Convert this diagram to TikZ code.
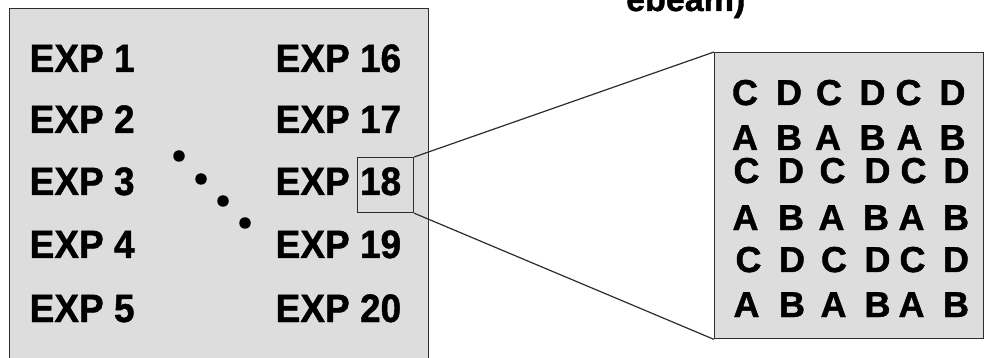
\documentclass[tikz,border=0pt]{standalone}
\usepackage{fontspec}
\setmainfont{Liberation Sans}[BoldFeatures={FakeBold=1.2}]
\definecolor{panelgray}{RGB}{221,221,221}
\definecolor{edgegray}{RGB}{45,45,45}
\begin{document}
\begin{tikzpicture}[x=1pt,y=-1pt,
  panel/.style={draw=edgegray, line width=1.4pt, fill=panelgray, inner sep=0pt, anchor=north west},
  explabel/.style={anchor=base west, inner sep=0pt, font=\fontsize{37}{40}\selectfont\bfseries, yscale=1.07, transform shape},
  gridletter/.style={anchor=base, inner sep=0pt, font=\fontsize{36}{40}\selectfont\bfseries},
  dotmark/.style={circle, fill=black, inner sep=0pt, minimum size=11.5pt},
  zoomframe/.style={draw=edgegray, line width=1.2pt, inner sep=0pt, anchor=north west},
  edge/.style={draw=edgegray, line width=1.2pt}]
\useasboundingbox (0,0) rectangle (988,358);
\fill[white] (0,0) rectangle (988,358);

% caption line, only its lower part lies inside the page
\node[anchor=base west, inner sep=0pt, font=\fontsize{34}{38}\selectfont\bfseries] (caption) at (626,11) {ebeam)};

% main panel and magnified panel
\node[panel, minimum width=419pt, minimum height=380pt] (main) at (9,8) {};
\node[panel, minimum width=269pt, minimum height=286pt] (zoom) at (714,52) {};

% experiment labels
\foreach \n/\yb [count=\i] in {1/72,2/133,3/195,4/258,5/322}
  \node[explabel] (expL\i) at (29.5,\yb) {EXP \n};
\foreach \n/\yb [count=\i] in {16/72,17/133,18/195,19/258,20/322}
  \node[explabel] (expR\i) at (275.5,\yb) {EXP \n};

% ellipsis dots
\node[dotmark] (d1) at (179,156) {};
\node[dotmark] (d2) at (201,179) {};
\node[dotmark] (d3) at (223,201) {};
\node[dotmark] (d4) at (245,223) {};

% highlighted cell and its magnification
\node[zoomframe, minimum width=56pt, minimum height=55pt] (hl) at (357,157) {};
\draw[edge] (hl.north east) -- (zoom.north west);
\draw[edge] (hl.south east) -- (zoom.south west);

% letter grid inside the magnified panel
\foreach \x/\l [count=\i] in {745/C,789/D,829/C,872.5/D,908.5/C,952.5/D}
  \node[gridletter] (ra\i) at (\x,105) {\l};
\foreach \x/\l [count=\i] in {745/A,789/B,828/A,872.5/B,909.5/A,952.5/B}
  \node[gridletter] (rb\i) at (\x,150) {\l};
\foreach \x/\l [count=\i] in {746.5/C,791/D,832.5/C,877.5/D,913.5/C,956.5/D}
  \node[gridletter] (rc\i) at (\x,183) {\l};
\foreach \x/\l [count=\i] in {745.5/A,791/B,831.5/A,876/B,911.5/A,956/B}
  \node[gridletter] (rd\i) at (\x,230) {\l};
\foreach \x/\l [count=\i] in {748.5/C,792/D,834/C,877.5/D,912.5/C,956/D}
  \node[gridletter] (re\i) at (\x,272) {\l};
\foreach \x/\l [count=\i] in {746.5/A,792/B,833.5/A,877.5/B,911.5/A,956/B}
  \node[gridletter] (rf\i) at (\x,317) {\l};
\end{tikzpicture}
\end{document}
